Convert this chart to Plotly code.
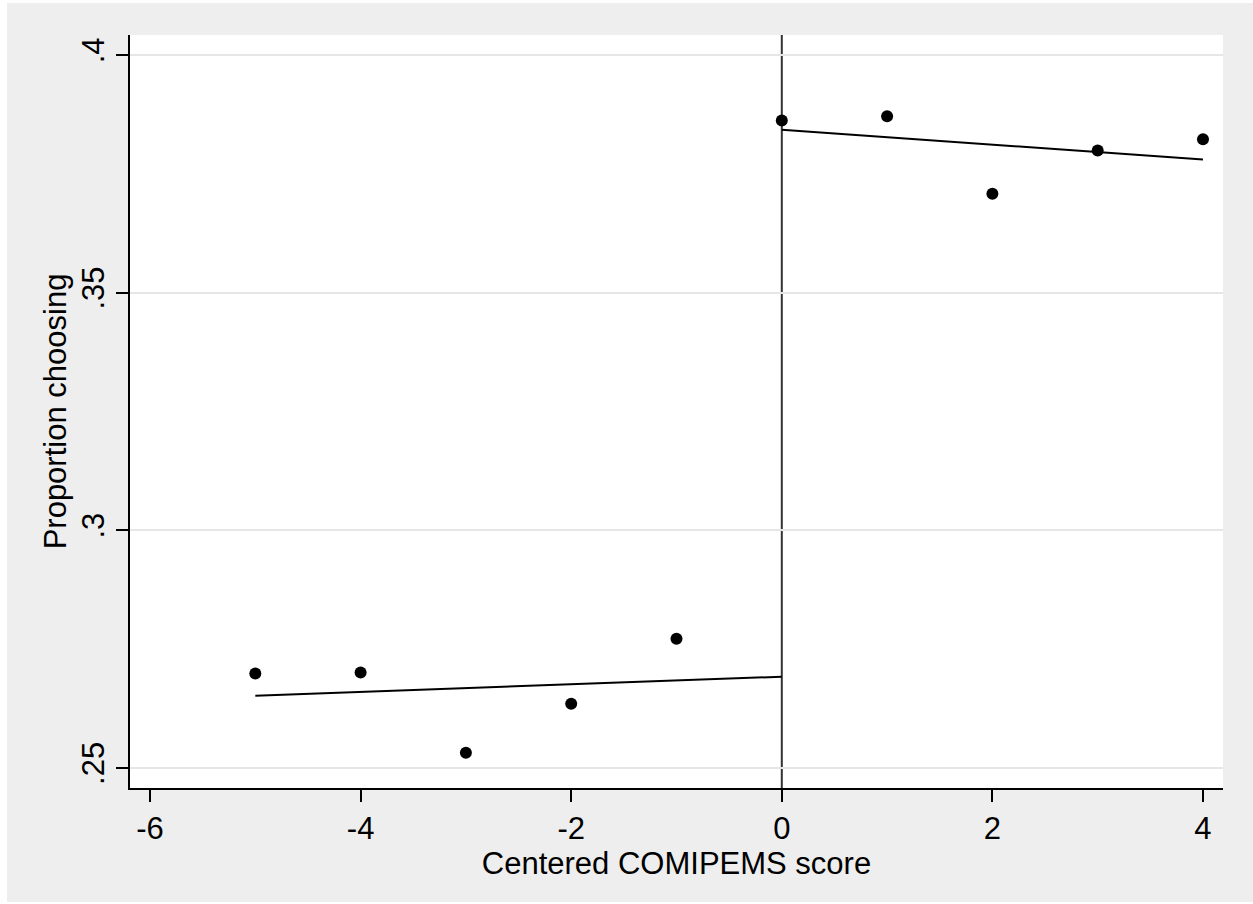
import plotly.graph_objects as go

# Centered COMIPEMS score bins and the share choosing at each bin
score_below = [-5, -4, -3, -2, -1]
share_below = [0.2699, 0.2701, 0.2532, 0.2635, 0.2772]
score_above = [0, 1, 2, 3, 4]
share_above = [0.3862, 0.3871, 0.3708, 0.3799, 0.3823]

# Linear fit on each side of the cutoff (end points of the fitted lines)
fit_below_x = [-5, 0]
fit_below_y = [0.2652, 0.2692]
fit_above_x = [0, 4]
fit_above_y = [0.3843, 0.3780]

x_ticks = [-6, -4, -2, 0, 2, 4]
x_tick_text = ["-6", "-4", "-2", "0", "2", "4"]
y_ticks = [0.25, 0.30, 0.35, 0.40]
y_tick_text = [".25", ".3", ".35", ".4"]

FONT = "Liberation Sans, Arial, sans-serif"
W, H = 1253, 904
ML, MR, MT, MB = 130, 30, 35, 116
PW, PH = W - ML - MR, H - MT - MB

fig = go.Figure()

dot = dict(color="black", size=12, line=dict(width=0))
for xs, ys in ((score_below, share_below), (score_above, share_above)):
    fig.add_trace(go.Scatter(x=xs, y=ys, mode="markers", marker=dot,
                             showlegend=False, hoverinfo="x+y"))
for xs, ys in ((fit_below_x, fit_below_y), (fit_above_x, fit_above_y)):
    fig.add_trace(go.Scatter(x=xs, y=ys, mode="lines",
                             line=dict(color="black", width=2),
                             showlegend=False, hoverinfo="skip"))

# Cutoff line at zero
fig.add_shape(type="line", xref="x", yref="paper", x0=0, x1=0, y0=0, y1=1,
              line=dict(color="#333333", width=2), layer="below")


def px_x(p):
    return (p - ML) / PW


def px_y(p):
    return 1 - (p - MT) / PH


# Thin white frame around the grey page
for x0, x1, y0, y1 in ((0, 7, 0, H), (0, W, 0, 3), (0, W, H - 2, H)):
    fig.add_shape(type="rect", xref="paper", yref="paper",
                  x0=px_x(x0), x1=px_x(x1), y0=px_y(y1), y1=px_y(y0),
                  fillcolor="white", line=dict(width=0), layer="below")

fig.update_layout(
    width=W, height=H,
    margin=dict(l=ML, r=MR, t=MT, b=MB),
    paper_bgcolor="#EEEEEE",
    plot_bgcolor="white",
    font=dict(family=FONT, size=31, color="black"),
    xaxis=dict(
        range=[-6.19, 4.19], tickvals=x_ticks, ticktext=x_tick_text,
        showgrid=False, zeroline=False,
        showline=True, linecolor="black", linewidth=2,
        ticks="outside", ticklen=12, tickwidth=2, tickcolor="black",
        title=dict(text="Centered COMIPEMS score", standoff=0,
                   font=dict(size=31)),
    ),
    yaxis=dict(
        range=[0.24579, 0.40421], tickvals=y_ticks, ticktext=y_tick_text,
        tickangle=-90,
        showgrid=True, gridcolor="#E6E6E6", gridwidth=2, zeroline=False,
        showline=True, linecolor="black", linewidth=2,
        ticks="outside", ticklen=12, tickwidth=2, tickcolor="black",
        title=dict(text="Proportion choosing", standoff=0,
                   font=dict(size=31)),
    ),
)

fig.write_html("out.html")
